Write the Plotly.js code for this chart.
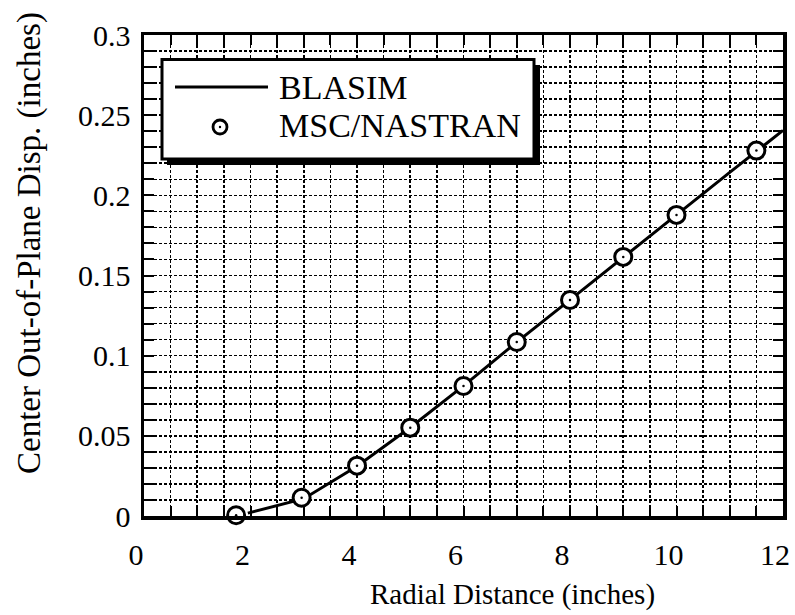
<!DOCTYPE html>
<html>
<head>
<meta charset="utf-8">
<script src="https://cdn.plot.ly/plotly-3.0.1.min.js"></script>
<style>html,body{margin:0;padding:0;background:#fff;}#chart{width:795px;height:615px;}</style>
</head>
<body>
<div id="chart"></div>
<script>
// ---- data ----
const blasimX = [1.95, 2.5, 3, 4, 5, 6, 7, 8, 9, 10, 11, 12];
const blasimY = [0.0018, 0.0066, 0.0108, 0.031, 0.0552, 0.0812, 0.1085, 0.1348, 0.1615, 0.1878, 0.2143, 0.2405];
const nastranX = [1.73, 2.96, 4.0, 5.0, 6.0, 7.0, 8.0, 9.0, 10.0, 11.5];
const nastranY = [0.0005, 0.0114, 0.0314, 0.0551, 0.0811, 0.1085, 0.1347, 0.1616, 0.1878, 0.2279];
const xTickVals = [0, 2, 4, 6, 8, 10, 12];
const xTickText = ['0', '2', '4', '6', '8', '10', '12'];
const yTickVals = [0, 0.05, 0.1, 0.15, 0.2, 0.25, 0.3];
const yTickText = ['0', '0.05', '0.1', '0.15', '0.2', '0.25', '0.3'];
const seriesNames = ['BLASIM', 'MSC/NASTRAN'];
const xTitle = 'Radial Distance (inches)';
const yTitle = 'Center Out-of-Plane Disp. (inches)';

// ---- layout helpers (pixel -> paper) ----
const W = 795, H = 615, ML = 144, MR = 12, MT = 35, MB = 99;
const PW = W - ML - MR, PH = H - MT - MB;
const px = v => (v - ML) / PW;
const py = v => (H - MB - v) / PH;

const FONT = '"Liberation Serif", "Times New Roman", serif';

const traces = [
  {
    x: blasimX, y: blasimY, mode: 'lines', name: seriesNames[0],
    line: {color: 'black', width: 3}, showlegend: false, cliponaxis: false
  },
  {
    x: nastranX, y: nastranY, mode: 'markers', name: seriesNames[1],
    marker: {symbol: 'circle', size: 17, color: 'white', line: {color: 'black', width: 3}},
    showlegend: false, cliponaxis: false
  },
  {
    x: nastranX, y: nastranY, mode: 'markers', name: seriesNames[1] + ' centre',
    marker: {symbol: 'circle', size: 2.5, color: 'black', line: {width: 0}},
    showlegend: false, cliponaxis: false, hoverinfo: 'skip'
  }
];

const gridCommon = {gridcolor: 'black', griddash: '3px,2px', gridwidth: 1.6};

const layout = {
  width: W, height: H,
  margin: {l: ML, r: MR, t: MT, b: MB, pad: 0},
  paper_bgcolor: 'white', plot_bgcolor: 'white',
  font: {family: FONT, color: 'black', size: 30},
  showlegend: false,
  xaxis: Object.assign({
    range: [0, 12], tickvals: xTickVals, ticktext: xTickText,
    ticks: 'inside', ticklen: 10, tickwidth: 2, tickcolor: 'black',
    showline: true, linecolor: 'black', linewidth: 3.5, mirror: 'ticks',
    zeroline: false, showgrid: true, fixedrange: true,
    tickfont: {family: FONT, size: 30, color: 'black'},
    ticklabelstandoff: 9, ticklabelshift: -8,
    minor: Object.assign({dtick: 0.5, ticks: 'inside', ticklen: 10, tickwidth: 2, tickcolor: 'black', showgrid: true}, gridCommon)
  }, gridCommon),
  yaxis: Object.assign({
    range: [0, 0.3], tickvals: yTickVals, ticktext: yTickText,
    ticks: 'inside', ticklen: 10, tickwidth: 2, tickcolor: 'black',
    showline: true, linecolor: 'black', linewidth: 3.5, mirror: 'ticks',
    zeroline: false, showgrid: true, fixedrange: true,
    tickfont: {family: FONT, size: 30, color: 'black'},
    ticklabelstandoff: 4,
    minor: Object.assign({dtick: 0.01, ticks: 'inside', ticklen: 10, tickwidth: 2, tickcolor: 'black', showgrid: true}, gridCommon)
  }, gridCommon),
  annotations: [
    {text: xTitle, xref: 'paper', yref: 'paper', x: px(512), y: py(594), showarrow: false,
     xanchor: 'center', yanchor: 'middle', font: {family: FONT, size: 29, color: 'black'}},
    {text: yTitle, xref: 'paper', yref: 'paper', x: px(29), y: py(243), showarrow: false, textangle: -90,
     xanchor: 'center', yanchor: 'middle', font: {family: FONT, size: 33, color: 'black'}},
    {text: seriesNames[0], xref: 'paper', yref: 'paper', x: px(277), y: py(88), showarrow: false,
     xanchor: 'left', yanchor: 'middle', font: {family: FONT, size: 34, color: 'black'}},
    {text: seriesNames[1], xref: 'paper', yref: 'paper', x: px(277), y: py(126), showarrow: false,
     xanchor: 'left', yanchor: 'middle', font: {family: FONT, size: 34, color: 'black'}}
  ],
  shapes: [
    // legend shadow
    {type: 'rect', xref: 'paper', yref: 'paper', layer: 'above', x0: px(167), x1: px(540), y0: py(65), y1: py(165),
     fillcolor: 'black', line: {width: 0}},
    // legend box
    {type: 'rect', xref: 'paper', yref: 'paper', layer: 'above', x0: px(162), x1: px(534), y0: py(59.5), y1: py(159),
     fillcolor: 'white', line: {color: 'black', width: 3}},
    // legend line sample
    {type: 'line', xref: 'paper', yref: 'paper', layer: 'above', x0: px(175), x1: px(268), y0: py(87), y1: py(87),
     line: {color: 'black', width: 3}},
    // legend marker sample
    {type: 'circle', xref: 'paper', yref: 'paper', layer: 'above', xsizemode: 'pixel', ysizemode: 'pixel',
     xanchor: px(220), yanchor: py(127), x0: -7, x1: 7, y0: -7, y1: 7,
     fillcolor: 'white', line: {color: 'black', width: 2.8}},
    {type: 'circle', xref: 'paper', yref: 'paper', layer: 'above', xsizemode: 'pixel', ysizemode: 'pixel',
     xanchor: px(220), yanchor: py(127), x0: -1.2, x1: 1.2, y0: -1.2, y1: 1.2,
     fillcolor: 'black', line: {color: 'black', width: 0}}
  ]
};

Plotly.newPlot('chart', traces, layout, {displayModeBar: false, staticPlot: true});
</script>
</body>
</html>
